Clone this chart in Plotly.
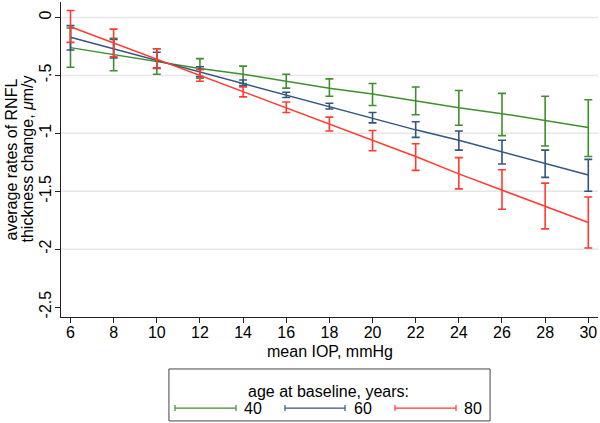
import plotly.graph_objects as go

# ---- data ----
iop = [6, 8, 10, 12, 14, 16, 18, 20, 22, 24, 26, 28, 30]

age_groups = ["40", "60", "80"]

mean_40 = [-0.26, -0.32, -0.38, -0.44, -0.49, -0.55, -0.61, -0.66, -0.72, -0.78, -0.83, -0.89, -0.95]
lo_40   = [-0.43, -0.46, -0.49, -0.525, -0.57, -0.61, -0.68, -0.76, -0.84, -0.93, -1.02, -1.11, -1.20]
hi_40   = [-0.09, -0.18, -0.27, -0.355, -0.42, -0.49, -0.53, -0.57, -0.60, -0.63, -0.655, -0.68, -0.71]

mean_60 = [-0.17, -0.27, -0.37, -0.47, -0.57, -0.67, -0.77, -0.87, -0.97, -1.06, -1.16, -1.26, -1.36]
lo_60   = [-0.28, -0.35, -0.44, -0.51, -0.59, -0.69, -0.79, -0.91, -1.035, -1.145, -1.265, -1.38, -1.50]
hi_60   = [-0.07, -0.19, -0.30, -0.425, -0.54, -0.645, -0.74, -0.82, -0.90, -0.98, -1.06, -1.145, -1.225]

mean_80 = [-0.08, -0.22, -0.36, -0.50, -0.64, -0.78, -0.92, -1.06, -1.20, -1.35, -1.49, -1.63, -1.77]
lo_80   = [-0.215, -0.34, -0.435, -0.55, -0.685, -0.82, -0.98, -1.15, -1.32, -1.48, -1.655, -1.825, -1.99]
hi_80   = [0.06, -0.10, -0.27, -0.45, -0.60, -0.73, -0.86, -0.975, -1.09, -1.21, -1.315, -1.43, -1.55]

y_ticks = [0, -0.5, -1, -1.5, -2, -2.5]
y_tick_labels = ["0", "-.5", "-1", "-1.5", "-2", "-2.5"]
grid_vals = [0, -0.5, -1, -1.5, -2]
x_ticks = iop

y_title_lines = ["average rates of RNFL", "thickness change, <i>μ</i>m/y"]

colors = ["#3f8f2e", "#35557f", "#ff3b30"]
FONT = "Liberation Sans, Arial, Helvetica, sans-serif"

series = [
    (mean_40, lo_40, hi_40),
    (mean_60, lo_60, hi_60),
    (mean_80, lo_80, hi_80),
]

fig = go.Figure()
for (m, lo, hi), c, name in zip(series, colors, age_groups):
    fig.add_trace(go.Scatter(
        x=iop, y=m, mode="lines", name=name,
        line=dict(color=c, width=1.5),
        error_y=dict(type="data", symmetric=False,
                     array=[h - v for h, v in zip(hi, m)],
                     arrayminus=[v - l for v, l in zip(m, lo)],
                     color=c, thickness=1.6, width=4),
        showlegend=False,
    ))

shapes = []
for g in grid_vals:
    shapes.append(dict(type="line", xref="paper", x0=0, x1=1, yref="y", y0=g, y1=g,
                       line=dict(color="#e6e6e6", width=1.5), layer="below"))

# legend box
shapes.append(dict(type="rect", xref="paper", yref="paper", x0=0.201, x1=0.799,
                   y0=-0.330, y1=-0.165, line=dict(color="#444444", width=1),
                   fillcolor="white"))
annotations = [
    dict(text="age at baseline, years:", xref="paper", yref="paper", x=0.498, y=-0.238,
         showarrow=False, font=dict(size=16, color="#000", family=FONT),
         xanchor="center", yanchor="middle"),
]
leg_y = -0.289
cap = 0.0095
leg_pos = [(0.2123, 0.3259, 0.3575), (0.4171, 0.5289, 0.5624), (0.6220, 0.7356, 0.767)]
for (xa, xb, xt), c, name in zip(leg_pos, colors, age_groups):
    shapes.append(dict(type="line", xref="paper", yref="paper", x0=xa, x1=xb, y0=leg_y, y1=leg_y,
                       line=dict(color=c, width=1.2)))
    for xx in (xa, xb):
        shapes.append(dict(type="line", xref="paper", yref="paper", x0=xx, x1=xx,
                           y0=leg_y - cap, y1=leg_y + cap, line=dict(color=c, width=1.2)))
    annotations.append(dict(text=name, xref="paper", yref="paper", x=xt, y=leg_y,
                            showarrow=False, font=dict(size=16, color="#000", family=FONT),
                            xanchor="center", yanchor="middle"))

annotations.append(dict(text="mean IOP, mmHg", xref="paper", yref="paper", x=0.5, y=-0.11,
                        showarrow=False, font=dict(size=16, color="#000", family=FONT),
                        xanchor="center", yanchor="middle"))
for txt, px in zip(y_title_lines, [11, 27]):
    annotations.append(dict(text=txt, xref="paper", yref="paper", x=(px - 61) / 537, y=0.5,
                            textangle=-90, showarrow=False,
                            font=dict(size=16, color="#000", family=FONT),
                            xanchor="center", yanchor="middle"))

fig.update_layout(
    width=600, height=423,
    margin=dict(l=61, r=2, t=2, b=106),
    paper_bgcolor="white", plot_bgcolor="white",
    font=dict(family=FONT, size=16, color="#000"),
    shapes=shapes, annotations=annotations,
    xaxis=dict(range=[5.56, 30.45], tickvals=x_ticks, ticktext=[str(v) for v in x_ticks],
               showgrid=False, zeroline=False, showline=True, linecolor="#222", linewidth=1,
               ticks="outside", ticklen=5, tickcolor="#222", tickfont=dict(size=16),
               ticklabelstandoff=-4, automargin=False),
    yaxis=dict(range=[-2.586, 0.134], tickvals=y_ticks, ticktext=y_tick_labels,
               tickangle=-90, showgrid=False, zeroline=False, showline=True,
               linecolor="#222", linewidth=1, ticks="outside", ticklen=5, tickcolor="#222",
               tickfont=dict(size=16), ticklabelstandoff=-2, automargin=False),
)

fig.write_html("out.html", config={"displayModeBar": False},
               post_script="document.body.style.margin='0px';document.body.style.padding='0px';")
